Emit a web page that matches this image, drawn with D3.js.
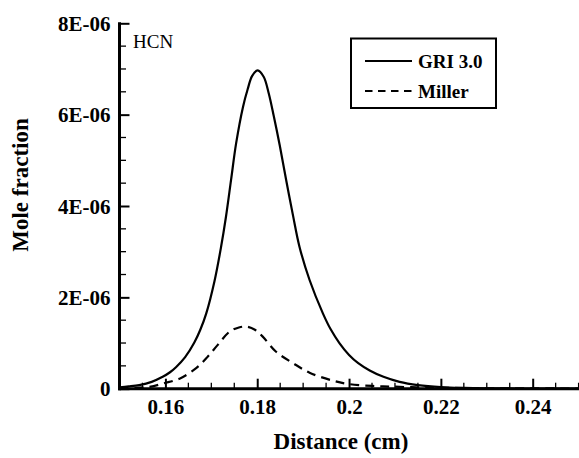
<!DOCTYPE html>
<html>
<head>
<meta charset="utf-8">
<script src="https://cdn.jsdelivr.net/npm/d3@7"></script>
<style>
  html, body { margin: 0; padding: 0; background: #fff; }
  svg { display: block; }
  text { font-family: "Liberation Serif", "Times New Roman", serif; fill: #000; }
</style>
</head>
<body>
<svg id="chart" width="579" height="458"></svg>
<script>
// HCN mole fraction profiles versus distance, two mechanisms
const gri30X = [0.150, 0.152, 0.1543, 0.157, 0.1594, 0.161, 0.1623, 0.1643, 0.1663, 0.1676, 0.1689,
  0.1707, 0.1721, 0.1732, 0.1743, 0.1754, 0.1769, 0.1779, 0.1789, 0.1801, 0.1814, 0.1825, 0.1836,
  0.1849, 0.1863, 0.1878, 0.1892, 0.1914, 0.1943, 0.1960, 0.1979, 0.2000, 0.2020, 0.2045, 0.2075,
  0.2110, 0.2150, 0.2200, 0.2250, 0.2300, 0.2400, 0.2500];
const gri30Y = [0.03, 0.05, 0.08, 0.15, 0.26, 0.36, 0.47, 0.69, 1.01, 1.29, 1.65,
  2.36, 3.09, 3.77, 4.57, 5.37, 6.17, 6.55, 6.85, 6.97, 6.83, 6.47, 5.97,
  5.33, 4.57, 3.79, 3.11, 2.38, 1.65, 1.30, 1.00, 0.74, 0.56, 0.40, 0.26,
  0.15, 0.08, 0.035, 0.016, 0.008, 0.003, 0.001].map(v => v * 1e-6);

const millerX = [0.150, 0.1565, 0.1597, 0.1633, 0.1667, 0.1692, 0.1714, 0.1740, 0.1760, 0.1776,
  0.1795, 0.1812, 0.1841, 0.1878, 0.1914, 0.1965, 0.2001, 0.2052, 0.2096, 0.2147, 0.2200, 0.2300, 0.2500];
const millerY = [0.01, 0.04, 0.12, 0.23, 0.45, 0.70, 0.96, 1.25, 1.34, 1.36,
  1.29, 1.14, 0.81, 0.56, 0.35, 0.175, 0.10, 0.06, 0.045, 0.03, 0.02, 0.01, 0.004].map(v => v * 1e-6);

const seriesNames = ["GRI 3.0", "Miller"];
const xTicks = [0.16, 0.18, 0.2, 0.22, 0.24];
const xTickLabels = ["0.16", "0.18", "0.2", "0.22", "0.24"];
const yTicks = [0, 2e-6, 4e-6, 6e-6, 8e-6];
const yTickLabels = ["0", "2E-06", "4E-06", "6E-06", "8E-06"];
const speciesLabel = "HCN";

const svg = d3.select("#chart");
const plotLeft = 119.5, plotRight = 578.6, plotTop = 23.3, plotBottom = 388.7;

const x = d3.scaleLinear().domain([0.15, 0.25]).range([plotLeft, plotRight]);
const y = d3.scaleLinear().domain([0, 8e-6]).range([plotBottom, plotTop]);

// minor ticks
const xMinor = d3.range(0.155, 0.2501, 0.005).filter(v => !xTicks.some(t => Math.abs(t - v) < 1e-9));
const yMinor = d3.range(0.5e-6, 8e-6, 0.5e-6).filter(v => !yTicks.some(t => Math.abs(t - v) < 1e-12));

const g = svg.append("g");

// x-axis: ticks pointing up into the plot
const xAxis = d3.axisBottom(x).tickValues(xTicks).tickFormat((d, i) => xTickLabels[i])
  .tickSizeInner(-10).tickSizeOuter(0).tickPadding(0);
const gx = g.append("g").attr("transform", `translate(0,${plotBottom})`).call(xAxis);
gx.select(".domain").remove();
gx.selectAll(".tick line").attr("stroke", "#000").attr("stroke-width", 2);
gx.selectAll(".tick text")
  .attr("y", 25).attr("dy", 0)
  .style("font-size", "21px").style("font-weight", "bold")
  .attr("font-family", "Liberation Serif, serif");
g.append("g").selectAll("line").data(xMinor).join("line")
  .attr("x1", d => x(d)).attr("x2", d => x(d))
  .attr("y1", plotBottom).attr("y2", plotBottom - 6)
  .attr("stroke", "#000").attr("stroke-width", 1.3);

// y-axis: ticks pointing right into the plot
const yAxis = d3.axisLeft(y).tickValues(yTicks).tickFormat((d, i) => yTickLabels[i])
  .tickSizeInner(-10).tickSizeOuter(0).tickPadding(0);
const gy = g.append("g").attr("transform", `translate(${plotLeft},0)`).call(yAxis);
gy.select(".domain").remove();
gy.selectAll(".tick line").attr("stroke", "#000").attr("stroke-width", 2);
gy.selectAll(".tick text")
  .attr("x", -9).attr("dy", "0.34em")
  .style("font-size", "21px").style("font-weight", "bold")
  .attr("font-family", "Liberation Serif, serif");
g.append("g").selectAll("line").data(yMinor).join("line")
  .attr("x1", plotLeft).attr("x2", plotLeft + 6.5)
  .attr("y1", d => y(d)).attr("y2", d => y(d))
  .attr("stroke", "#000").attr("stroke-width", 1.3);

// axis lines
g.append("line").attr("x1", plotLeft).attr("x2", plotLeft).attr("y1", plotBottom + 1.5).attr("y2", plotTop - 1)
  .attr("stroke", "#000").attr("stroke-width", 3);
g.append("line").attr("x1", plotLeft - 1.5).attr("x2", 579).attr("y1", plotBottom).attr("y2", plotBottom)
  .attr("stroke", "#000").attr("stroke-width", 3);

// curves
const line = d3.line().x(d => x(d[0])).y(d => y(d[1])).curve(d3.curveCatmullRom.alpha(0.5));
const griData = gri30X.map((v, i) => [v, gri30Y[i]]);
const millerData = millerX.map((v, i) => [v, millerY[i]]);

g.append("path").datum(griData).attr("d", line)
  .attr("fill", "none").attr("stroke", "#000").attr("stroke-width", 2.2);
g.append("path").datum(millerData).attr("d", line)
  .attr("fill", "none").attr("stroke", "#000").attr("stroke-width", 2.2)
  .attr("stroke-dasharray", "9,6");

// species label
g.append("text").attr("x", 133).attr("y", 48).text(speciesLabel)
  .style("font-size", "19px");

// legend
const lg = g.append("g");
lg.append("rect").attr("x", 351).attr("y", 38.5).attr("width", 145).attr("height", 69.5)
  .attr("fill", "#fff").attr("stroke", "#000").attr("stroke-width", 2);
const legendRows = [{ name: seriesNames[0], dash: null, y: 61 }, { name: seriesNames[1], dash: "7.5,5.5", y: 91 }];
legendRows.forEach(r => {
  lg.append("line").attr("x1", 365).attr("x2", 412).attr("y1", r.y).attr("y2", r.y)
    .attr("stroke", "#000").attr("stroke-width", 2.2)
    .attr("stroke-dasharray", r.dash);
  lg.append("text").attr("x", 418).attr("y", r.y + 6.5).text(r.name)
    .style("font-size", "19px").style("font-weight", "bold");
});

// axis titles
g.append("text").attr("x", 341).attr("y", 449).attr("text-anchor", "middle")
  .text("Distance (cm)").style("font-size", "23px").style("font-weight", "bold");
g.append("text").attr("transform", "translate(28,185) rotate(-90)").attr("text-anchor", "middle")
  .text("Mole fraction").style("font-size", "23px").style("font-weight", "bold");
</script>
</body>
</html>
